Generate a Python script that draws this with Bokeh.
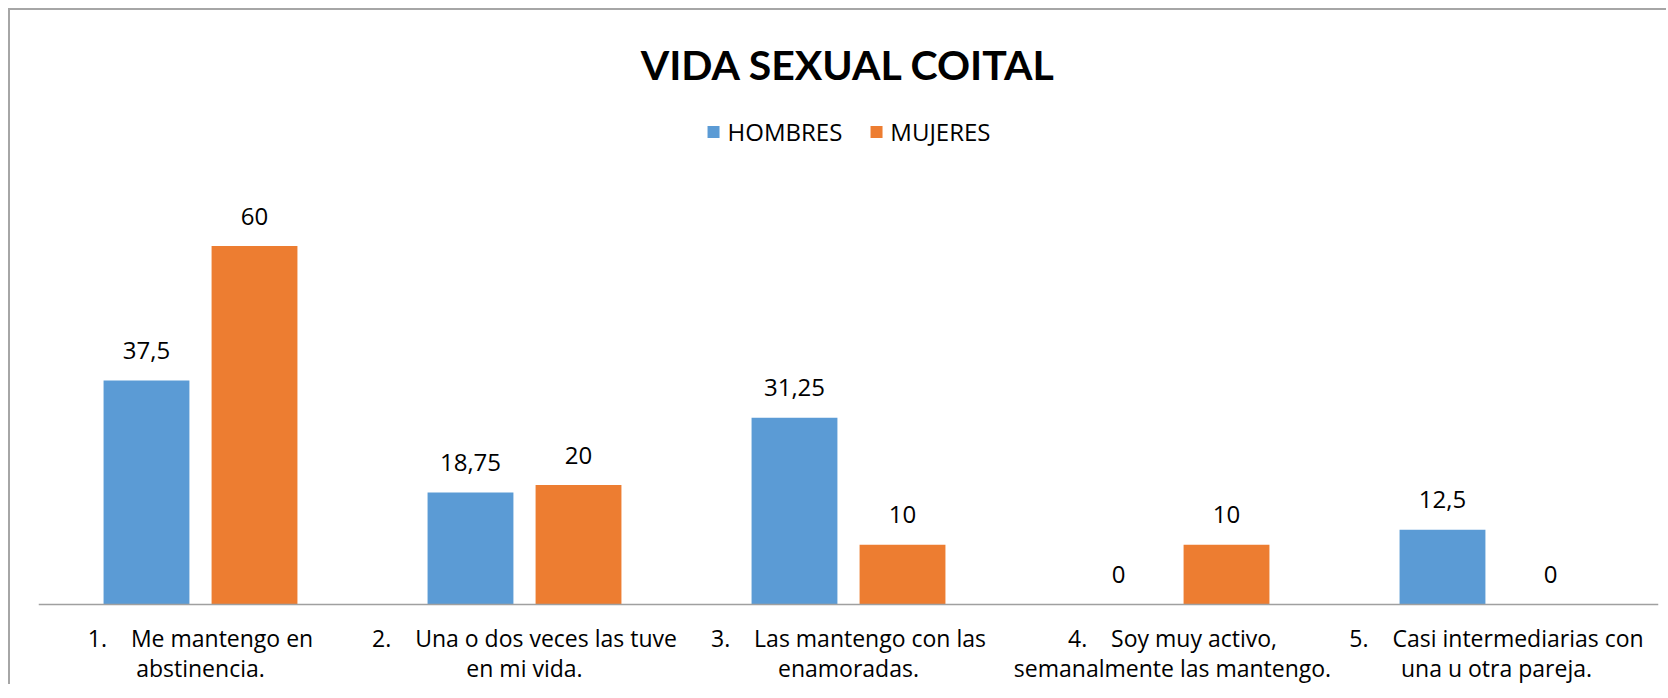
from bokeh.plotting import figure
from bokeh.models import ColumnDataSource, FactorRange, Range1d, Legend, LegendItem, Span
from bokeh.transform import dodge
from bokeh.core.properties import value
from bokeh.embed import file_html
from bokeh.resources import INLINE

# ---- data ----
categories = [
    "1.\u00a0\u00a0\u00a0 Me mantengo en\nabstinencia.",
    "2.\u00a0\u00a0\u00a0 Una o dos veces las tuve\nen mi vida.",
    "3.\u00a0\u00a0\u00a0 Las mantengo con las\nenamoradas.",
    "4.\u00a0\u00a0\u00a0 Soy muy activo,\nsemanalmente las mantengo.",
    "5.\u00a0\u00a0\u00a0 Casi intermediarias con\nuna u otra pareja.",
]
hombres = [37.5, 18.75, 31.25, 0, 12.5]
mujeres = [60, 20, 10, 10, 0]
series_names = ["HOMBRES", "MUJERES"]
title_text = "VIDA SEXUAL COITAL"


def fmt(v):
    s = ("%g" % v)
    return s.replace(".", ",")


source = ColumnDataSource(dict(
    cat=categories,
    hombres=hombres,
    mujeres=mujeres,
    hombres_lbl=[fmt(v) for v in hombres],
    mujeres_lbl=[fmt(v) for v in mujeres],
))

BLUE = "#5B9BD5"
ORANGE = "#ED7D31"
FONT = "Open Sans"

p = figure(
    x_range=FactorRange(factors=categories, range_padding=0),
    y_range=Range1d(-13.72, 82.68),
    width=1658, height=676,
    output_backend="svg", toolbar_location=None,
    min_border_left=28, min_border_right=10,
    min_border_top=100, min_border_bottom=0,
    title=title_text,
)
p.styles = {"margin-left": "8px", "margin-top": "8px",
            "border-left": "2px solid #a6a6a6", "border-top": "2px solid #a6a6a6"}

p.title.align = "center"
p.title.text_font = "Lato"
p.title.text_font_style = "bold"
p.title.text_font_size = "41px"
p.title.text_color = "#000000"
p.title.standoff = 44

bw = 0.265
off = 0.1667
r1 = p.vbar(x=dodge("cat", -off, range=p.x_range), top="hombres", width=bw,
            source=source, fill_color=BLUE, line_color=None)
r2 = p.vbar(x=dodge("cat", off, range=p.x_range), top="mujeres", width=bw,
            source=source, fill_color=ORANGE, line_color=None)

for col, dx in (("hombres", -off), ("mujeres", off)):
    p.text(x=dodge("cat", dx, range=p.x_range), y=col, text=col + "_lbl",
           source=source, text_align="center", text_baseline="alphabetic",
           y_offset=-30, text_font=value(FONT), text_font_size="24px",
           text_color="#000000")

# baseline (category axis line)
p.add_layout(Span(location=0, dimension="width", line_color="#a0a0a0", line_width=1.3))

# category labels under the baseline
p.text(x="cat", y=0, text="cat", source=source, text_align="center",
       text_baseline="top", y_offset=17, text_font=value(FONT),
       text_font_size="23px", text_line_height=0.95, text_color="#000000")

legend = Legend(items=[LegendItem(label=series_names[0], renderers=[r1]),
                       LegendItem(label=series_names[1], renderers=[r2])],
                location="top_center", orientation="horizontal")
legend.border_line_color = None
legend.background_fill_alpha = 0
legend.margin = 5
legend.padding = 0
legend.spacing = 26
legend.label_standoff = 7
legend.glyph_width = 15
legend.glyph_height = 15
legend.label_height = 22
legend.label_text_font = FONT
legend.label_text_font_size = "24px"
legend.label_text_color = "#000000"
p.add_layout(legend)

p.xaxis.visible = False
p.yaxis.visible = False
p.xgrid.grid_line_color = None
p.ygrid.grid_line_color = None
p.outline_line_color = None

open("out.html", "w").write(file_html(p, INLINE))
